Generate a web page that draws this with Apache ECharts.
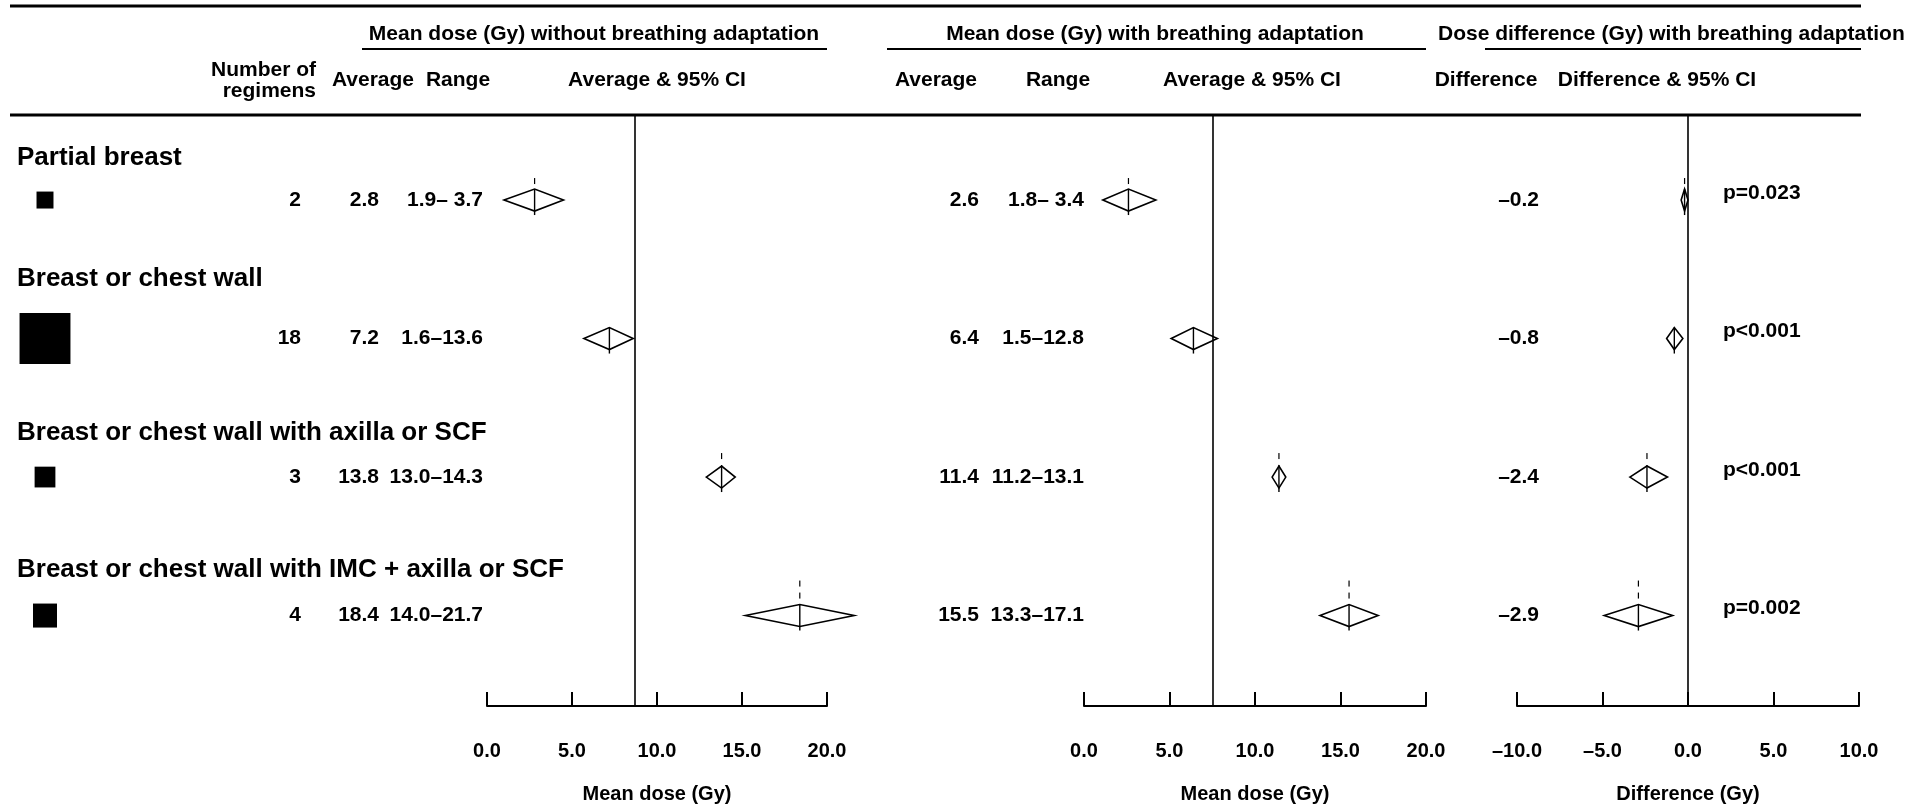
<!DOCTYPE html>
<html lang="en">

<head>
    <meta charset="UTF-8">
    <title>Mean dose forest plot</title>
    <script src="https://cdn.jsdelivr.net/npm/echarts@6/dist/echarts.min.js"></script>
    <style>
        html, body { margin: 0; padding: 0; background: #fff; }
        #main { width: 1913px; height: 806px; }
    </style>
</head>

<body>
    <div id="main"></div>
    <script>
        // data
        var groups = ['Partial breast', 'Breast or chest wall', 'Breast or chest wall with axilla or SCF', 'Breast or chest wall with IMC + axilla or SCF'];
        var regimens = [2, 18, 3, 4];
        var avgWithout = [2.8, 7.2, 13.8, 18.4];
        var rangeWithout = ['1.9\u2013 3.7', '1.6\u201313.6', '13.0\u201314.3', '14.0\u201321.7'];
        var ciWithout = [[1.0, 4.5], [5.7, 8.6], [12.9, 14.6], [15.2, 21.6]];
        var avgWith = [2.6, 6.4, 11.4, 15.5];
        var rangeWith = ['1.8\u2013 3.4', '1.5\u201312.8', '11.2\u201313.1', '13.3\u201317.1'];
        var ciWith = [[1.1, 4.2], [5.1, 7.8], [11.0, 11.8], [13.8, 17.2]];
        var diffs = [-0.2, -0.8, -2.4, -2.9];
        var ciDiff = [[-0.4, 0.0], [-1.25, -0.3], [-3.4, -1.2], [-4.9, -0.9]];
        var pValues = ['p=0.023', 'p<0.001', 'p<0.001', 'p=0.002'];
        var refLines = [8.7, 7.5, 0];

        // look
        var FONT = '"Liberation Sans", Arial, sans-serif';
        var dashAbove = [11, 0, 13, 24];   // dashed stub above each diamond
        var cols = { label: 17, square: 45, n: 301, avg1: 379, range1: 483, avg2: 979, range2: 1084, diff: 1539, p: 1723 };

        var myChart = echarts.init(document.getElementById('main'));

        function fmt(v) {
            return v.toFixed(1).replace('-', '\u2013');
        }

        function txt(text, x, y, align, size, weight) {
            return {
                type: 'text',
                style: {
                    text: text, x: x, y: y,
                    textAlign: align || 'center',
                    textVerticalAlign: 'middle',
                    font: (weight || 'bold') + ' ' + (size || 21) + 'px ' + FONT,
                    fill: '#000'
                }
            };
        }

        function hline(x1, x2, y, w) {
            return {
                type: 'line',
                shape: { x1: x1, y1: y, x2: x2, y2: y },
                style: { stroke: '#000', lineWidth: w }
            };
        }

        function xAxisFor(gi, min, max, name) {
            return {
                type: 'value',
                gridIndex: gi,
                min: min,
                max: max,
                interval: 5,
                position: 'bottom',
                axisLine: { show: true, onZero: false, lineStyle: { color: '#000', width: 2 } },
                axisTick: { show: true, inside: true, length: 14, lineStyle: { color: '#000', width: 2 } },
                splitLine: { show: false },
                axisLabel: {
                    margin: 35,
                    color: '#000',
                    fontSize: 20,
                    fontWeight: 'bold',
                    fontFamily: FONT,
                    formatter: fmt
                },
                name: name,
                nameLocation: 'middle',
                nameGap: 78,
                nameTextStyle: { color: '#000', fontSize: 20, fontWeight: 'bold', fontFamily: FONT }
            };
        }

        function yAxisFor(gi) {
            return { type: 'value', gridIndex: gi, min: -0.614, max: 3.653, inverse: true, show: false };
        }

        // diamond = CI, vertical bar at the average, dashed stub on top
        function diamondItem(params, api) {
            var row = api.value(0);
            var c = api.coord([api.value(1), row]);
            var lo = api.coord([api.value(2), row]);
            var hi = api.coord([api.value(3), row]);
            var h = 11;
            var dash = dashAbove[row];
            var kids = [{
                type: 'polygon',
                shape: { points: [[lo[0], c[1]], [c[0], c[1] - h], [hi[0], c[1]], [c[0], c[1] + h]] },
                style: { fill: '#fff', stroke: '#000', lineWidth: 1.6 }
            }, {
                type: 'line',
                shape: { x1: c[0], y1: c[1] - h, x2: c[0], y2: c[1] + h + 4 },
                style: { stroke: '#000', lineWidth: 1.4 }
            }];
            if (dash > 0) {
                kids.push({
                    type: 'line',
                    shape: { x1: c[0], y1: c[1] - h - dash, x2: c[0], y2: c[1] - h },
                    style: { stroke: '#000', lineWidth: 1.2, lineDash: [6, 6] }
                });
            }
            return { type: 'group', children: kids };
        }

        function diamondSeries(gi, means, cis, ref) {
            return {
                type: 'custom',
                xAxisIndex: gi,
                yAxisIndex: gi,
                clip: false,
                renderItem: diamondItem,
                encode: { x: [1, 2, 3], y: 0 },
                data: means.map(function (m, i) { return [i, m, cis[i][0], cis[i][1]]; }),
                markLine: {
                    silent: true,
                    symbol: 'none',
                    label: { show: false },
                    lineStyle: { color: '#000', width: 1.6, type: 'solid' },
                    data: [{ xAxis: ref }]
                },
                z: 3
            };
        }

        // the table on the left / between the panels
        function tableItem(params, api) {
            var i = api.value(1);
            var y = api.coord([0, i])[1];
            var side = 12 * Math.sqrt(regimens[i]);
            return {
                type: 'group',
                children: [
                    txt(groups[i], cols.label, y - 34 - side / 2, 'left', 26),
                    {
                        type: 'rect',
                        shape: { x: cols.square - side / 2, y: y - side / 2, width: side, height: side },
                        style: { fill: '#000' }
                    },
                    txt(String(regimens[i]), cols.n, y, 'right'),
                    txt(avgWithout[i].toFixed(1), cols.avg1, y, 'right'),
                    txt(rangeWithout[i], cols.range1, y, 'right'),
                    txt(avgWith[i].toFixed(1), cols.avg2, y, 'right'),
                    txt(rangeWith[i], cols.range2, y, 'right'),
                    txt(fmt(diffs[i]), cols.diff, y, 'right'),
                    txt(pValues[i], cols.p, y - 7, 'left')
                ]
            };
        }

        var option = {
            animation: false,
            backgroundColor: '#fff',
            grid: [
                { left: 487, width: 340, top: 115, height: 591, outerBoundsMode: 'none' },
                { left: 1084, width: 342, top: 115, height: 591, outerBoundsMode: 'none' },
                { left: 1517, width: 342, top: 115, height: 591, outerBoundsMode: 'none' }
            ],
            xAxis: [
                xAxisFor(0, 0, 20, 'Mean dose (Gy)'),
                xAxisFor(1, 0, 20, 'Mean dose (Gy)'),
                xAxisFor(2, -10, 10, 'Difference (Gy)')
            ],
            yAxis: [yAxisFor(0), yAxisFor(1), yAxisFor(2)],
            graphic: [
                hline(10, 1861, 6, 3),
                hline(10, 1861, 115, 3),
                hline(362, 827, 49, 2),
                hline(887, 1426, 49, 2),
                hline(1485, 1861, 49, 2),
                txt('Mean dose (Gy) without breathing adaptation', 594, 34),
                txt('Mean dose (Gy) with breathing adaptation', 1155, 34),
                txt('Dose difference (Gy) with breathing adaptation', 1438, 34, 'left'),
                txt('Number of', 316, 70, 'right'),
                txt('regimens', 316, 91, 'right'),
                txt('Average', 373, 80),
                txt('Range', 458, 80),
                txt('Average & 95% CI', 657, 80),
                txt('Average', 936, 80),
                txt('Range', 1058, 80),
                txt('Average & 95% CI', 1252, 80),
                txt('Difference', 1486, 80),
                txt('Difference & 95% CI', 1657, 80)
            ],
            series: [
                diamondSeries(0, avgWithout, ciWithout, refLines[0]),
                diamondSeries(1, avgWith, ciWith, refLines[1]),
                diamondSeries(2, diffs, ciDiff, refLines[2]),
                {
                    type: 'custom',
                    xAxisIndex: 0,
                    yAxisIndex: 0,
                    clip: false,
                    renderItem: tableItem,
                    encode: { x: 0, y: 1 },
                    data: groups.map(function (g, i) { return [0, i]; }),
                    z: 4
                }
            ]
        };

        myChart.setOption(option);
    </script>
</body>

</html>
